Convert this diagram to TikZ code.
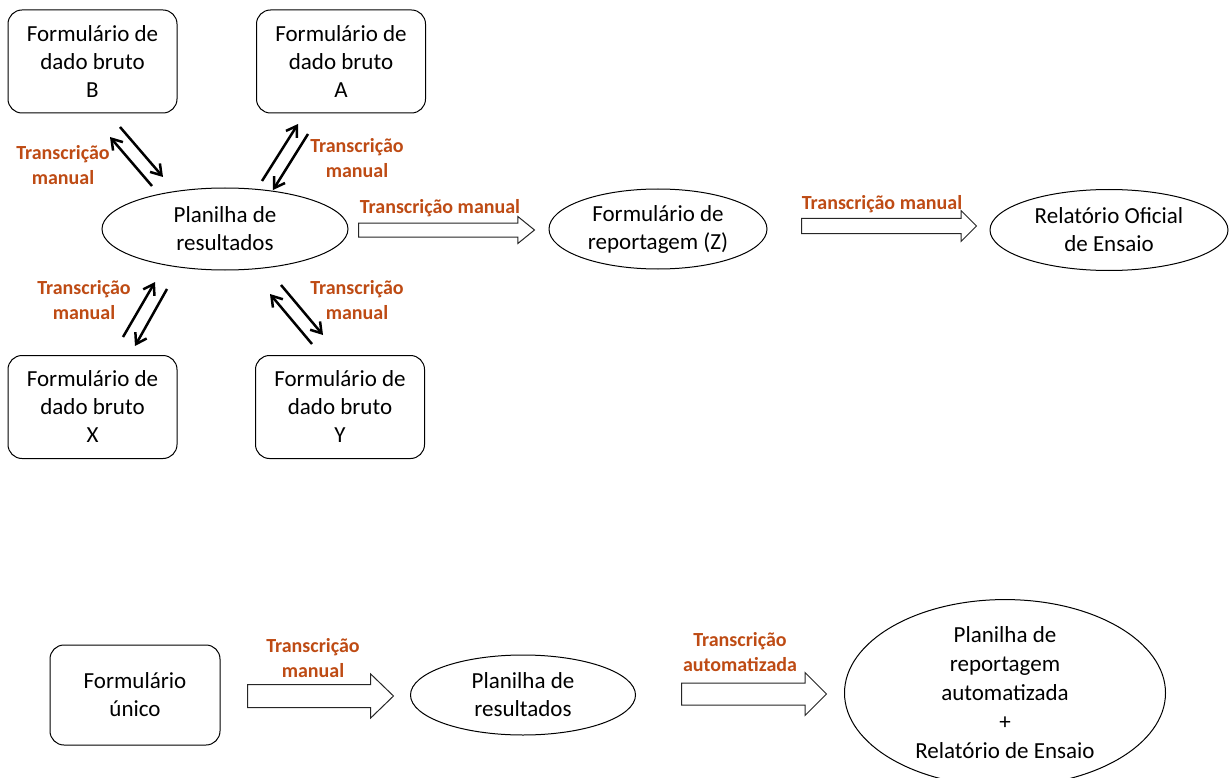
\documentclass[tikz,border=0pt]{standalone}
\usepackage{fontspec}
\setmainfont{Carlito}
\usetikzlibrary{arrows.meta,shapes.geometric,shapes.arrows}
\definecolor{labelbrown}{RGB}{190,75,20}

\begin{document}
\begin{tikzpicture}[x=1pt, y=-1pt]
 \tikzset{
rawform/.style = {rectangle, rounded corners=14pt, draw=black, line width=1pt, minimum width=169pt, minimum height=103pt, align=center, font=\fontsize{23}{28}\selectfont},
sheet/.style = {ellipse, draw=black, line width=1pt, inner sep=0pt, align=center, font=\fontsize{23}{28}\selectfont},
translabel/.style = {text=labelbrown, align=center, font=\bfseries\fontsize{20}{25}\selectfont},
transfer/.style = {draw=black, line width=2.5pt, -{Straight Barb[length=10pt,width=13pt]}},
bigarrow/.style = {single arrow, anchor=tail, draw=black!85, line width=1pt, fill=white, inner sep=0pt, text depth=0pt, single arrow head indent=0pt}}

    \useasboundingbox (0,0) rectangle (1231,778);

    % raw data forms and results sheet
    \node [rawform] (formB) at (92.5,61.5) {Formulário de\\dado bruto\\B};
    \node [rawform] (formA) at (341,61.5) {Formulário de\\dado bruto\\A};
    \node [rawform] (formX) at (92.5,407) {Formulário de\\dado bruto\\X};
    \node [rawform] (formY) at (340,407) {Formulário de\\dado bruto\\Y};
    \node [sheet, minimum width=246pt, minimum height=82pt] (res) at (225,229) {Planilha de\\resultados};
    \node [sheet, minimum width=218pt, minimum height=80pt] (report) at (658,229) {Formulário de\\reportagem (Z)};
    \node [sheet, minimum width=238pt, minimum height=81pt] (oficial) at (1109,230) {Relatório Oficial\\de Ensaio};

    % transfer arrows
    \coordinate (b1) at (152,186); \coordinate (b2) at (110,137);
    \coordinate (b3) at (120,127); \coordinate (b4) at (163,177);
    \coordinate (a1) at (262,181); \coordinate (a2) at (298,124);
    \coordinate (a3) at (308,134); \coordinate (a4) at (273,190);
    \coordinate (x1) at (123,337); \coordinate (x2) at (155,282);
    \coordinate (x3) at (167,289); \coordinate (x4) at (135,346);
    \coordinate (y1) at (312,344); \coordinate (y2) at (270,294);
    \coordinate (y3) at (281,285); \coordinate (y4) at (323,335);
    \draw [transfer] (b1) -- (b2);
    \draw [transfer] (b3) -- (b4);
    \draw [transfer] (a1) -- (a2);
    \draw [transfer] (a3) -- (a4);
    \draw [transfer] (x1) -- (x2);
    \draw [transfer] (x3) -- (x4);
    \draw [transfer] (y1) -- (y2);
    \draw [transfer] (y3) -- (y4);

    \node [translabel] (labB) at (63,165) {Transcrição\\manual};
    \node [translabel] (labA) at (357,158) {Transcrição\\manual};
    \node [translabel] (labX) at (84,300) {Transcrição\\manual};
    \node [translabel] (labY) at (357,300) {Transcrição\\manual};

    \node [bigarrow, minimum height=176pt, text height=13pt, single arrow head extend=6.5pt, single arrow tip angle=78] (arr1) at (358,230) {};
    \node [bigarrow, minimum height=175pt, text height=14pt, single arrow head extend=8pt, single arrow tip angle=90] (arr2) at (801,226) {};
    \node [translabel] (lab1) at (440,208) {Transcrição manual};
    \node [translabel] (lab2) at (882,204) {Transcrição manual};

    % single form workflow
    \node [rawform, minimum width=170pt, minimum height=100pt] (unico) at (135,695) {Formulário\\único};
    \node [sheet, minimum width=225pt, minimum height=80pt] (res2) at (523,695) {Planilha de\\resultados};
    \node [sheet, minimum width=321pt, minimum height=170pt, font=\fontsize{23}{29}\selectfont] (final) at (1005,693) {Planilha de\\reportagem\\automatizada\\+\\Relatório de Ensaio};

    \node [bigarrow, minimum height=146pt, text height=22pt, single arrow head extend=10.5pt, single arrow tip angle=88] (arr3) at (247,696) {};
    \node [bigarrow, minimum height=145pt, text height=21pt, single arrow head extend=10.5pt, single arrow tip angle=90] (arr4) at (681,694) {};
    \node [translabel] (lab3) at (313,658) {Transcrição\\manual};
    \node [translabel] (lab4) at (740,652) {Transcrição\\automatizada};

\end{tikzpicture}
\end{document}
